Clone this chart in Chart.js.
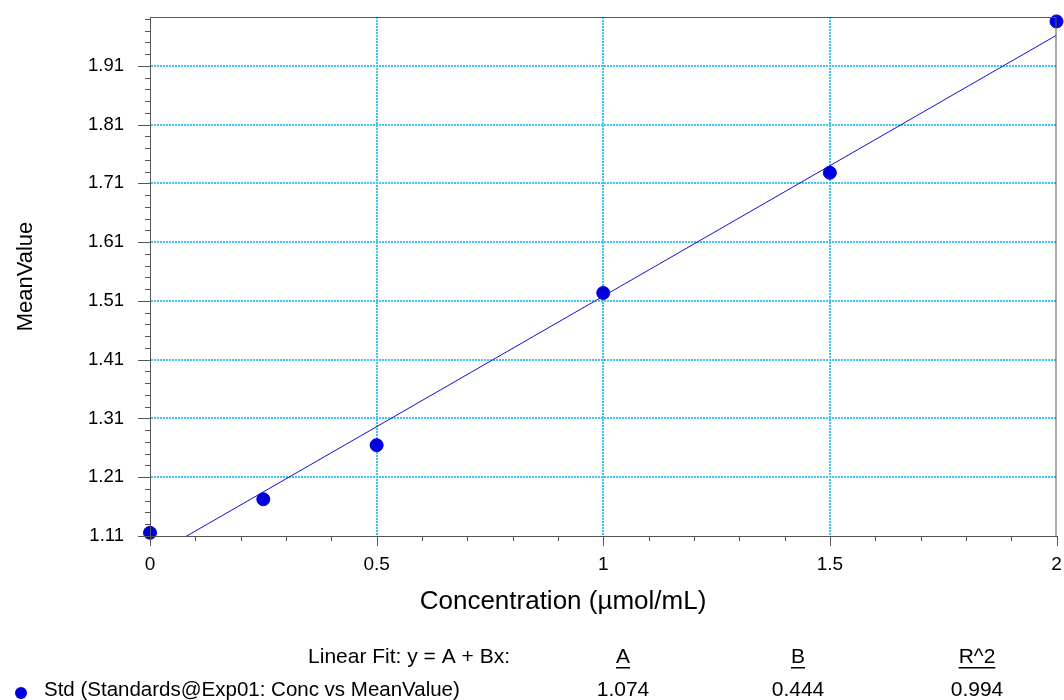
<!DOCTYPE html>
<html lang="en">
<head>
    <meta charset="UTF-8">
    <title>Std - Linear Fit</title>
    <script src="https://cdn.jsdelivr.net/npm/chart.js"></script>
    <style>
        body {
            margin: 0;
            padding: 0;
            background: #ffffff;
        }
        canvas {
            display: block;
        }
    </style>
</head>
<body>
    <canvas id="stdChart" width="1064" height="700"></canvas>
    <script>
        // standards: concentration vs mean value
        const concentrations = [0, 0.25, 0.5, 1, 1.5, 2];
        const meanValues = [1.1155, 1.1725, 1.2645, 1.5235, 1.728, 1.9855];

        // fitted line end points (x = 0 and x = 2)
        const fitX = [0, 2];
        const fitY = [1.074, 1.962];

        // fit results shown under the chart
        const fitHeaders = ['A', 'B', 'R^2'];
        const fitResults = ['1.074', '0.444', '0.994'];
        const seriesName = 'Std (Standards@Exp01: Conc vs MeanValue)';

        // axis ticks
        const yMajorLabels = ['1.11', '1.21', '1.31', '1.41', '1.51', '1.61', '1.71', '1.81', '1.91'];
        const xMajorLabels = ['0', '0.5', '1', '1.5', '2'];

        const yMin = 1.11, yMax = 1.993, yMinorStep = 0.02;
        const xMin = 0, xMax = 2, xMinorStep = 0.1;

        const FONT = "'Liberation Sans', Arial, sans-serif";
        const gridColor = '#3ec4ef';
        const pointColor = '#0000dd';

        function isMajorY(v) {
            return yMajorLabels.some(l => Math.abs(parseFloat(l) - v) < 1e-6);
        }
        function isMajorX(v) {
            return xMajorLabels.some(l => Math.abs(parseFloat(l) - v) < 1e-6);
        }

        const extrasPlugin = {
            id: 'extras',
            afterDraw(chart) {
                const ctx = chart.ctx;
                const area = chart.chartArea;
                const xs = chart.scales.x;
                const ys = chart.scales.y;
                ctx.save();

                // frame
                ctx.strokeStyle = '#555';
                ctx.lineWidth = 1;
                ctx.strokeRect(area.left + 0.5, area.top + 0.5, area.right - area.left - 1, area.bottom - area.top);

                // tick marks
                ctx.beginPath();
                ys.ticks.forEach(t => {
                    const py = Math.round(ys.getPixelForValue(t.value)) + 0.5;
                    const len = isMajorY(t.value) ? 12 : 5;
                    ctx.moveTo(area.left - len, py);
                    ctx.lineTo(area.left, py);
                });
                xs.ticks.forEach(t => {
                    const px = Math.round(xs.getPixelForValue(t.value)) + 0.5;
                    const len = isMajorX(t.value) ? 10 : 5;
                    ctx.moveTo(px, area.bottom);
                    ctx.lineTo(px, area.bottom + len);
                });
                ctx.stroke();

                // x axis title (sits left of centre in the original)
                ctx.fillStyle = '#000';
                ctx.font = '26px ' + FONT;
                ctx.textAlign = 'center';
                ctx.textBaseline = 'middle';
                ctx.fillText('Concentration (\u00b5mol/mL)', 563, 602);

                // fit table
                ctx.font = '21px ' + FONT;
                ctx.textAlign = 'right';
                ctx.fillText('Linear Fit: y = A + Bx:', 510, 657);

                const colX = [623, 798, 977];
                ctx.textAlign = 'center';
                fitHeaders.forEach((h, i) => {
                    ctx.fillText(h, colX[i], 657);
                    const w = ctx.measureText(h).width;
                    ctx.fillRect(colX[i] - w / 2, 667, w, 1.5);
                });
                fitResults.forEach((r, i) => {
                    ctx.fillText(r, colX[i], 690);
                });

                ctx.font = '20.5px ' + FONT;
                ctx.textAlign = 'left';
                ctx.fillText(seriesName, 44, 690);

                ctx.fillStyle = pointColor;
                ctx.beginPath();
                ctx.arc(21, 693, 6, 0, Math.PI * 2);
                ctx.fill();

                ctx.restore();
            }
        };

        const ctx = document.getElementById('stdChart').getContext('2d');
        const stdChart = new Chart(ctx, {
            type: 'scatter',
            data: {
                datasets: [
                    {
                        label: 'Std',
                        data: concentrations.map((c, i) => ({ x: c, y: meanValues[i] })),
                        backgroundColor: pointColor,
                        borderColor: pointColor,
                        pointRadius: 6.5,
                        pointHoverRadius: 6.5,
                        clip: false,
                        order: 1
                    },
                    {
                        label: 'Linear Fit',
                        type: 'line',
                        data: fitX.map((x, i) => ({ x: x, y: fitY[i] })),
                        borderColor: '#1010d0',
                        borderWidth: 1,
                        pointRadius: 0,
                        fill: false,
                        order: 2
                    }
                ]
            },
            options: {
                responsive: false,
                animation: false,
                layout: {
                    padding: { top: 17, right: 5, left: 0, bottom: 0 }
                },
                plugins: {
                    legend: { display: false },
                    tooltip: { enabled: false }
                },
                scales: {
                    x: {
                        type: 'linear',
                        min: xMin,
                        max: xMax,
                        afterBuildTicks(scale) {
                            const ticks = [];
                            for (let i = 0; i <= Math.round((xMax - xMin) / xMinorStep); i++) {
                                ticks.push({ value: +(xMin + i * xMinorStep).toFixed(4) });
                            }
                            scale.ticks = ticks;
                        },
                        afterFit(scale) {
                            scale.height = 700 - 536;
                            scale.paddingLeft = 0;
                            scale.paddingRight = 0;
                        },
                        ticks: {
                            autoSkip: false,
                            maxRotation: 0,
                            padding: 17,
                            color: '#000',
                            font: { family: FONT, size: 19 },
                            callback(v) {
                                return isMajorX(v) ? xMajorLabels.find(l => Math.abs(parseFloat(l) - v) < 1e-6) : '';
                            }
                        },
                        grid: {
                            drawTicks: false,
                            lineWidth: 2,
                            color(c) {
                                const v = c.tick ? c.tick.value : null;
                                if (v === null || !isMajorX(v) || v === xMin || v === xMax) return 'rgba(0,0,0,0)';
                                return gridColor;
                            }
                        },
                        border: { display: true, color: '#555', width: 1, dash: [2, 1] }
                    },
                    y: {
                        type: 'linear',
                        min: yMin,
                        max: yMax,
                        afterBuildTicks(scale) {
                            const ticks = [];
                            for (let v = yMin; v <= yMax + 1e-9; v += yMinorStep) {
                                ticks.push({ value: +v.toFixed(4) });
                            }
                            scale.ticks = ticks;
                        },
                        afterFit(scale) {
                            scale.width = 150;
                            scale.paddingTop = 0;
                            scale.paddingBottom = 0;
                        },
                        title: {
                            display: true,
                            text: 'MeanValue',
                            color: '#000',
                            font: { family: FONT, size: 22 },
                            padding: { top: 13, bottom: 0 }
                        },
                        ticks: {
                            autoSkip: false,
                            padding: 26,
                            color: '#000',
                            font: { family: FONT, size: 18.5 },
                            callback(v) {
                                return isMajorY(v) ? yMajorLabels.find(l => Math.abs(parseFloat(l) - v) < 1e-6) : '';
                            }
                        },
                        grid: {
                            drawTicks: false,
                            lineWidth: 2,
                            color(c) {
                                const v = c.tick ? c.tick.value : null;
                                if (v === null || !isMajorY(v) || Math.abs(v - yMin) < 1e-6) return 'rgba(0,0,0,0)';
                                return gridColor;
                            }
                        },
                        border: { display: true, color: '#555', width: 1, dash: [2, 1] }
                    }
                }
            },
            plugins: [extrasPlugin]
        });
    </script>
</body>
</html>
